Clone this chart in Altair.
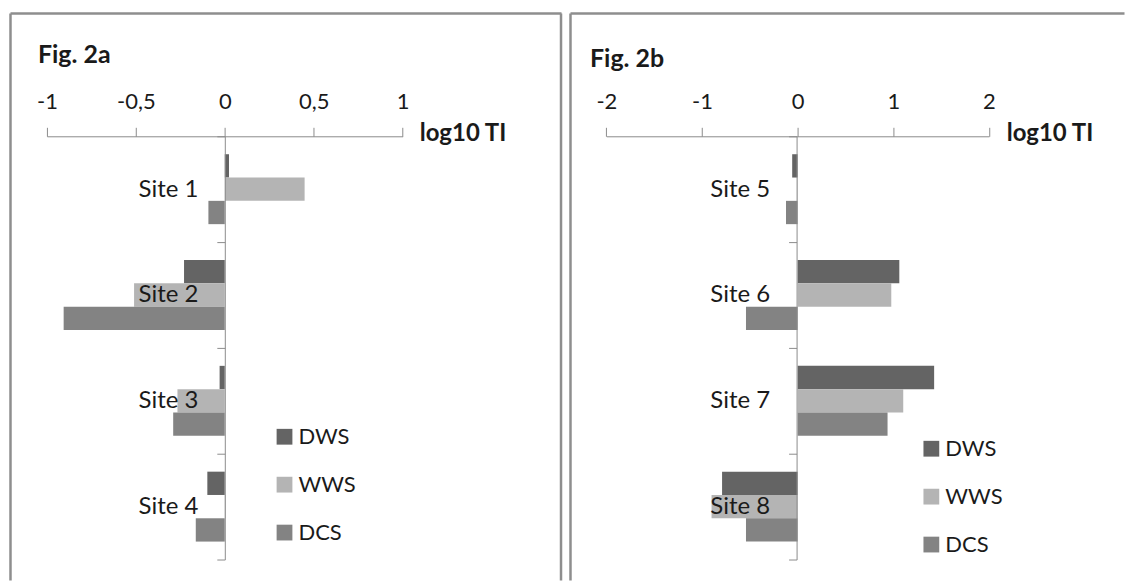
import altair as alt
import pandas as pd

# ---- data ----
series = ["DWS", "WWS", "DCS"]
colors = ["#646464", "#b4b4b4", "#838383"]

sites_a = ["Site 1", "Site 2", "Site 3", "Site 4"]
dws_a = [0.024, -0.229, -0.029, -0.098]
wws_a = [0.449, -0.510, -0.266, 0.004]
dcs_a = [-0.092, -0.906, -0.290, -0.163]
ticks_a = [-1, -0.5, 0, 0.5, 1]

sites_b = ["Site 5", "Site 6", "Site 7", "Site 8"]
dws_b = [-0.057, 1.063, 1.427, -0.790]
wws_b = [-0.005, 0.979, 1.104, -0.900]
dcs_b = [-0.122, -0.540, 0.940, -0.540]
ticks_b = [-2, -1, 0, 1, 2]

FONT = "Lato"
TXT = "#1a1a1a"
AXC = "#8c8c8c"
FRAME = "#8e8e8e"
DY = -12   # vertical compensation
H = 560


def long_df(sites, d, w, c):
    rows = []
    for i, s in enumerate(sites):
        rows.append({"site": s, "series": "DWS", "value": d[i]})
        rows.append({"site": s, "series": "WWS", "value": w[i]})
        rows.append({"site": s, "series": "DCS", "value": c[i]})
    return pd.DataFrame(rows)


def panel(df, sites, xdom, xrange, ticks, zero_px, title, tx, ty, title_x,
          lx, ly, width, right_line):
    one = pd.DataFrame({"t": [title]})
    axis_y = 127 + DY
    bars = alt.Chart(df).mark_bar().encode(
        x=alt.X(
            "value:Q",
            scale=alt.Scale(domain=xdom, range=xrange, nice=False, zero=False),
            axis=alt.Axis(
                orient="top", offset=-axis_y, values=ticks, tickSize=9,
                labelPadding=14, labelFontSize=22, labelFont=FONT,
                labelColor=TXT, labelFlush=False, labelOverlap=False,
                labelExpr="replace('' + datum.value, '.', ',')",
                domainColor=AXC, tickColor=AXC, grid=False,
                title="log10 TI", titleX=title_x, titleY=-3,
                titleAlign="left", titleBaseline="middle", titleAngle=0,
                titleFont=FONT, titleFontSize=24, titleFontWeight="bold",
                titleColor=TXT,
            ),
        ),
        x2=alt.datum(0),
        y=alt.Y(
            "site:N", sort=sites,
            scale=alt.Scale(domain=sites, range=[axis_y, 551 + DY],
                            paddingInner=0, paddingOuter=0),
            axis=alt.Axis(
                orient="left", offset=-zero_px, tickBand="extent",
                tickSize=8, labelPadding=19, labelFontSize=24,
                labelFont=FONT, labelColor=TXT, domainColor=AXC,
                tickColor=AXC, title=None, zindex=1, grid=False,
            ),
        ),
        yOffset=alt.YOffset(
            "series:N", sort=series,
            scale=alt.Scale(domain=series, paddingOuter=0.77, paddingInner=0),
        ),
        color=alt.Color(
            "series:N", sort=series,
            scale=alt.Scale(domain=series, range=colors),
            legend=alt.Legend(
                orient="none", legendX=lx, legendY=ly + DY, title=None,
                symbolType="square", symbolSize=250, symbolStrokeWidth=0,
                labelFontSize=22, labelFont=FONT, labelColor=TXT,
                rowPadding=26, padding=0, labelOffset=3,
            ),
        ),
    )
    ttl = alt.Chart(one).mark_text(
        align="left", baseline="middle", font=FONT, fontSize=25,
        fontWeight="bold", color=TXT,
    ).encode(x=alt.value(tx), y=alt.value(ty + DY), text="t:N")

    frame_left = alt.Chart(one).mark_rule(color=FRAME, strokeWidth=2.5).encode(
        x=alt.value(1.5), y=alt.value(4 + DY), y2=alt.value(H))
    frame_top = alt.Chart(one).mark_rule(color=FRAME, strokeWidth=2.5).encode(
        x=alt.value(1.5), x2=alt.value(width - 1.5), y=alt.value(4 + DY))
    layers = [frame_left, frame_top]
    if right_line:
        layers.append(alt.Chart(one).mark_rule(color=FRAME, strokeWidth=2.5).encode(
            x=alt.value(width - 2), y=alt.value(4 + DY), y2=alt.value(H)))
    layers += [bars, ttl]
    return alt.layer(*layers).properties(width=width, height=H)


pa = panel(long_df(sites_a, dws_a, wws_a, dcs_a), sites_a, [-1, 1],
           [38, 394.3], ticks_a, 216.2, "Fig. 2a", 29, 46, 411,
           265, 417, 555, True)
pb = panel(long_df(sites_b, dws_b, wws_b, dcs_b), sites_b, [-2, 2],
           [37.4, 420.7], ticks_b, 228.0, "Fig. 2b", 21, 50, 438,
           352, 429, 558, False)

chart = alt.hconcat(pa, pb, spacing=4).resolve_scale(
    color="independent").resolve_legend(color="independent").properties(
    padding=0).configure_view(stroke="transparent")

chart.save("out.html", embed_options={"renderer": "svg", "actions": False})
